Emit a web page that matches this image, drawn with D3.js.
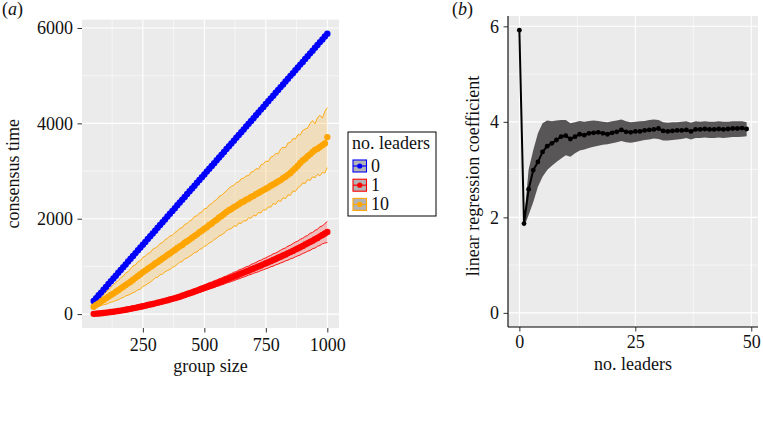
<!DOCTYPE html>
<html><head><meta charset="utf-8">
<script src="https://cdn.jsdelivr.net/npm/d3@7"></script>
<style>
body{margin:0;background:#fff}
svg{display:block}
text{font-family:"Liberation Serif","Times New Roman",serif;fill:#111}
</style></head><body>
<svg id="c" width="763" height="442"></svg>
<script>
// ---------- DATA ----------
const groupSize = [50,60,70,80,90,100,110,120,130,140,150,160,170,180,190,200,210,220,230,240,250,260,270,280,290,300,310,320,330,340,350,360,370,380,390,400,410,420,430,440,450,460,470,480,490,500,510,520,530,540,550,560,570,580,590,600,610,620,630,640,650,660,670,680,690,700,710,720,730,740,750,760,770,780,790,800,810,820,830,840,850,860,870,880,890,900,910,920,930,940,950,960,970,980,990,1000];

const leaders0Mean = [275,333,394,451,512,569,630,687,748,805,866,923,984,1041,1102,1159,1220,1277,1338,1395,1456,1513,1574,1631,1692,1749,1810,1867,1928,1985,2046,2103,2164,2221,2282,2339,2400,2457,2518,2575,2636,2693,2754,2811,2872,2929,2990,3047,3108,3165,3226,3283,3344,3401,3462,3519,3580,3637,3698,3755,3816,3873,3934,3991,4052,4109,4170,4227,4288,4345,4406,4463,4524,4581,4642,4699,4760,4817,4878,4935,4996,5053,5114,5171,5232,5289,5350,5407,5468,5525,5586,5643,5704,5761,5822,5880];

const leaders1Mean = [5,9,13,18,24,30,36,43,50,57,65,73,82,91,100,110,121,131,142,153,165,177,189,200,213,225,238,251,263,277,290,305,319,334,350,365,383,400,420,436,455,474,492,512,530,550,568,590,606,627,645,665,684,706,724,745,765,788,806,830,850,870,892,911,935,955,976,1000,1020,1043,1065,1088,1110,1135,1156,1180,1203,1228,1250,1276,1300,1325,1352,1376,1404,1430,1458,1484,1514,1540,1570,1598,1630,1658,1690,1720];
const leaders1Hi = [8,13,18,24,31,37,44,52,60,68,77,86,97,107,117,128,141,152,164,177,190,205,217,230,246,258,275,290,300,318,332,350,362,381,398,412,435,452,475,488,512,532,548,575,590,615,632,660,670,700,715,740,757,785,800,828,848,878,890,925,942,965,992,1005,1042,1060,1082,1115,1130,1160,1180,1210,1230,1265,1280,1310,1338,1370,1388,1425,1445,1478,1510,1530,1570,1590,1628,1650,1695,1712,1755,1780,1830,1848,1900,1940];
const leaders1Lo = [2,5,9,13,18,23,28,35,41,47,54,61,69,76,84,93,102,111,121,130,141,150,162,171,182,193,203,214,227,237,250,262,277,288,304,318,333,350,366,385,398,418,435,450,472,486,506,522,542,556,578,592,612,628,650,665,682,700,722,738,758,776,795,818,832,855,872,888,912,928,950,966,992,1005,1032,1048,1070,1088,1115,1130,1158,1172,1200,1222,1240,1270,1290,1318,1335,1368,1385,1420,1438,1475,1490,1500];

const leaders10Mean = [154,190,222,262,295,330,362,400,430,470,500,540,572,612,645,680,722,760,800,836,880,912,950,985,1020,1060,1090,1130,1165,1200,1240,1272,1310,1345,1385,1420,1450,1495,1528,1562,1600,1640,1672,1715,1750,1790,1822,1868,1900,1945,1980,2025,2058,2100,2140,2180,2205,2240,2270,2305,2340,2362,2398,2420,2455,2480,2515,2540,2572,2600,2630,2655,2690,2718,2748,2780,2810,2850,2880,2920,2960,3010,3060,3110,3170,3220,3260,3310,3350,3400,3440,3470,3505,3540,3580,3712];
const leaders10Hi = [185,245,290,350,400,465,505,560,610,665,700,765,795,860,890,950,1010,1030,1100,1120,1190,1220,1270,1290,1360,1385,1420,1480,1500,1560,1590,1640,1650,1710,1740,1800,1810,1880,1900,1950,1980,2050,2060,2120,2140,2210,2220,2290,2320,2370,2400,2470,2490,2540,2590,2640,2680,2700,2760,2770,2840,2850,2900,2900,2980,2990,3050,3040,3130,3150,3210,3200,3290,3310,3370,3360,3460,3500,3490,3590,3600,3680,3670,3760,3760,3850,3880,3900,4000,4060,3990,4120,4170,4110,4250,4330];
const leaders10Lo = [125,145,160,180,195,205,225,250,260,285,300,330,345,380,395,420,450,470,510,520,580,600,640,670,710,760,775,825,840,885,915,935,980,1000,1045,1090,1100,1160,1175,1210,1245,1290,1300,1355,1375,1420,1440,1495,1515,1565,1590,1640,1660,1695,1745,1780,1790,1850,1840,1910,1900,1960,1950,2020,2010,2070,2060,2130,2120,2190,2180,2250,2240,2320,2300,2380,2360,2440,2420,2500,2490,2580,2570,2650,2680,2750,2740,2820,2800,2880,2860,2930,2900,2970,2960,3070];

const legendLabels = ["0","1","10"];
const seriesColors = ["#0000FF","#FF0000","#FFA500"];

const aXTicks = [250,500,750,1000];
const aYTicks = [0,2000,4000,6000];

const numLeaders = [0,1,2,3,4,5,6,7,8,9,10,11,12,13,14,15,16,17,18,19,20,21,22,23,24,25,26,27,28,29,30,31,32,33,34,35,36,37,38,39,40,41,42,43,44,45,46,47,48,49];
const coef = [5.92,1.87,2.59,2.99,3.16,3.37,3.49,3.55,3.62,3.69,3.71,3.64,3.69,3.74,3.72,3.76,3.77,3.78,3.76,3.74,3.77,3.79,3.83,3.79,3.78,3.80,3.80,3.82,3.83,3.84,3.86,3.81,3.80,3.81,3.82,3.82,3.83,3.80,3.84,3.84,3.85,3.84,3.84,3.85,3.84,3.85,3.86,3.86,3.87,3.85];
const coefLo = [null,1.80,2.05,2.32,2.64,2.85,2.99,3.08,3.16,3.23,3.30,3.27,3.34,3.40,3.42,3.45,3.48,3.50,3.52,3.53,3.55,3.57,3.60,3.57,3.56,3.58,3.60,3.62,3.63,3.65,3.64,3.61,3.61,3.62,3.63,3.64,3.66,3.63,3.66,3.66,3.67,3.66,3.66,3.67,3.66,3.67,3.68,3.68,3.69,3.70];
const coefHi = [null,1.95,3.00,3.41,3.76,3.97,4.03,4.01,4.03,4.04,4.04,3.97,3.99,4.02,4.00,4.02,4.03,4.02,4.00,3.99,4.01,4.03,4.05,4.01,3.99,4.00,4.01,4.02,4.04,4.05,4.04,3.99,3.98,3.99,3.99,4.00,4.01,3.98,4.01,4.00,4.01,4.00,4.00,4.01,4.00,4.00,4.01,4.01,4.01,3.99];

const bXTicks = [0,25,50];
const bYTicks = [0,2,4,6];

// ---------- HELPERS ----------
const svg = d3.select("#c");
const FS = 18;
function expand(ext, m){ m = m||0.05; const d = ext[1]-ext[0]; return [ext[0]-d*m, ext[1]+d*m]; }
function minorOf(t){ const out=[]; for(let i=0;i<t.length-1;i++) out.push((t[i]+t[i+1])/2); return out; }

function panelBase(g, box, x, y, xt, yt, xMinor, yMinor){
  g.append("rect").attr("x",box.l).attr("y",box.t).attr("width",box.r-box.l).attr("height",box.b-box.t).attr("fill","#EBEBEB");
  g.selectAll(".mx").data(xMinor).join("line").attr("x1",d=>x(d)).attr("x2",d=>x(d)).attr("y1",box.t).attr("y2",box.b).attr("stroke","#fff").attr("stroke-width",0.55);
  g.selectAll(".my").data(yMinor).join("line").attr("y1",d=>y(d)).attr("y2",d=>y(d)).attr("x1",box.l).attr("x2",box.r).attr("stroke","#fff").attr("stroke-width",0.55);
  g.selectAll(".Mx").data(xt).join("line").attr("x1",d=>x(d)).attr("x2",d=>x(d)).attr("y1",box.t).attr("y2",box.b).attr("stroke","#fff").attr("stroke-width",1.1);
  g.selectAll(".My").data(yt).join("line").attr("y1",d=>y(d)).attr("y2",d=>y(d)).attr("x1",box.l).attr("x2",box.r).attr("stroke","#fff").attr("stroke-width",1.1);
}
function axes(g, box, x, y, xt, yt, xPad, yPad){
  const ax = g.append("g").attr("transform",`translate(0,${box.b})`)
    .call(d3.axisBottom(x).tickValues(xt).tickSize(4.5).tickPadding(xPad).tickFormat(d3.format("d")));
  const ay = g.append("g").attr("transform",`translate(${box.l},0)`)
    .call(d3.axisLeft(y).tickValues(yt).tickSize(4.5).tickPadding(yPad).tickFormat(d3.format("d")));
  [ax,ay].forEach(a=>{
    a.select(".domain").remove();
    a.selectAll(".tick line").attr("stroke","#333").attr("stroke-width",1);
    a.selectAll(".tick text").attr("font-size",FS).attr("font-family",'"Liberation Serif",serif').attr("fill","#111");
  });
}

// ---------- PANEL A ----------
const A = {l:82, r:339, t:19.7, b:328};
const gA = svg.append("g");
const allA = [].concat(leaders0Mean, leaders1Lo, leaders1Hi, leaders10Lo, leaders10Hi);
const xa = d3.scaleLinear().domain(expand(d3.extent(groupSize))).range([A.l, A.r]);
const ya = d3.scaleLinear().domain(expand(d3.extent(allA))).range([A.b, A.t]);
panelBase(gA, A, xa, ya, aXTicks, aYTicks, [125].concat(minorOf(aXTicks)), minorOf(aYTicks));

const series = [
  {mean: leaders0Mean, lo: null, hi: null},
  {mean: leaders1Mean, lo: leaders1Lo, hi: leaders1Hi},
  {mean: leaders10Mean, lo: leaders10Lo, hi: leaders10Hi}
];
const clipA = svg.append("defs").append("clipPath").attr("id","clipA");
clipA.append("rect").attr("x",A.l).attr("y",A.t).attr("width",A.r-A.l).attr("height",A.b-A.t);
const plotA = gA.append("g").attr("clip-path","url(#clipA)");
series.forEach((s,si)=>{
  const col = seriesColors[si];
  if(s.lo){
    const area = d3.area().x((d,i)=>xa(groupSize[i])).y0((d,i)=>ya(s.lo[i])).y1((d,i)=>ya(s.hi[i]));
    plotA.append("path").datum(s.mean).attr("d",area).attr("fill",col).attr("fill-opacity",0.2);
    [s.lo,s.hi].forEach(arr=>{
      plotA.append("path").datum(arr).attr("d",d3.line().x((d,i)=>xa(groupSize[i])).y(d=>ya(d)))
        .attr("fill","none").attr("stroke",col).attr("stroke-width",0.9);
    });
  }
});
series.forEach((s,si)=>{
  const col = seriesColors[si];
  plotA.append("path").datum(s.mean).attr("d",d3.line().x((d,i)=>xa(groupSize[i])).y(d=>ya(d)))
    .attr("fill","none").attr("stroke",col).attr("stroke-width",1.8);
  plotA.selectAll(null).data(s.mean).join("circle").attr("cx",(d,i)=>xa(groupSize[i])).attr("cy",d=>ya(d))
    .attr("r",3.2).attr("fill",col);
});
axes(gA, A, xa, ya, aXTicks, aYTicks, 6, 4.5);

gA.append("text").attr("x",(A.l+A.r)/2).attr("y",372).attr("text-anchor","middle").attr("font-size",FS).text("group size");
gA.append("text").attr("transform",`translate(19,${(A.t+A.b)/2}) rotate(-90)`).attr("text-anchor","middle").attr("font-size",FS).text("consensus time");
const la = gA.append("text").attr("x",2).attr("y",15).attr("font-size",FS);
la.append("tspan").text("(");
la.append("tspan").attr("font-style","italic").text("a");
la.append("tspan").text(")");

// legend
const L = {x:348, y:132, w:88, h:84};
const gL = svg.append("g");
gL.append("rect").attr("x",L.x).attr("y",L.y).attr("width",L.w).attr("height",L.h).attr("fill","#fff").attr("stroke","#000").attr("stroke-width",1);
gL.append("text").attr("x",L.x+4).attr("y",L.y+17).attr("font-size",FS).text("no. leaders");
legendLabels.forEach((lab,i)=>{
  const cy = L.y + 34 + i*19.2;
  const col = seriesColors[i];
  gL.append("rect").attr("x",L.x+5).attr("y",cy-6).attr("width",13.5).attr("height",12).attr("fill","#B3B3B3").attr("stroke",col).attr("stroke-width",1.1).attr("fill-opacity",1);
  gL.append("line").attr("x1",L.x+5).attr("x2",L.x+18.5).attr("y1",cy).attr("y2",cy).attr("stroke",col).attr("stroke-width",1.2);
  gL.append("circle").attr("cx",L.x+11.75).attr("cy",cy).attr("r",2.6).attr("fill",col);
  gL.append("text").attr("x",L.x+23).attr("y",cy+6).attr("font-size",FS).text(lab);
});

// ---------- PANEL B ----------
const B = {l:508, r:758, t:16, b:327};
const gB = svg.append("g");
const xb = d3.scaleLinear().domain(expand(d3.extent(numLeaders))).range([B.l, B.r]);
const yb = d3.scaleLinear().domain(expand([0, d3.max(coef)])).range([B.b, B.t]);
panelBase(gB, B, xb, yb, bXTicks, bYTicks, minorOf(bXTicks), minorOf(bYTicks));
const areaB = d3.area().defined((d,i)=>coefLo[i]!==null).x((d,i)=>xb(numLeaders[i])).y0((d,i)=>yb(coefLo[i])).y1((d,i)=>yb(coefHi[i]));
gB.append("path").datum(coef).attr("d",areaB).attr("fill","#585656");
gB.append("path").datum(coef).attr("d",d3.line().x((d,i)=>xb(numLeaders[i])).y(d=>yb(d))).attr("fill","none").attr("stroke","#000").attr("stroke-width",2);
gB.selectAll(null).data(coef).join("circle").attr("cx",(d,i)=>xb(numLeaders[i])).attr("cy",d=>yb(d)).attr("r",2.4).attr("fill","#000");
axes(gB, B, xb, yb, bXTicks, bYTicks, 4, 4.5);
gB.append("line").attr("x1",B.l).attr("x2",B.l).attr("y1",B.t).attr("y2",B.b).attr("stroke","#000").attr("stroke-width",1.1);
gB.append("line").attr("x1",B.l).attr("x2",B.r).attr("y1",B.b).attr("y2",B.b).attr("stroke","#000").attr("stroke-width",1.1);
gB.append("text").attr("x",(B.l+B.r)/2).attr("y",370).attr("text-anchor","middle").attr("font-size",FS).text("no. leaders");
gB.append("text").attr("transform",`translate(479,176) rotate(-90)`).attr("text-anchor","middle").attr("font-size",FS).text("linear regression coefficient");
const lb = gB.append("text").attr("x",452).attr("y",15).attr("font-size",FS);
lb.append("tspan").text("(");
lb.append("tspan").attr("font-style","italic").text("b");
lb.append("tspan").text(")");
</script></body></html>
